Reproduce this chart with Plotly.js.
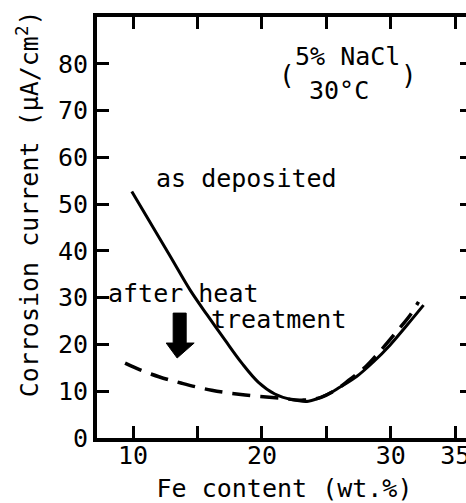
<!DOCTYPE html>
<html>
<head>
<meta charset="utf-8">
<script src="https://cdn.plot.ly/plotly-3.0.1.min.js"></script>
<style>
html, body { margin: 0; padding: 0; overflow: hidden; background: #fff; }
#chart { width: 480px; height: 503px; }
</style>
</head>
<body>
<div id="chart"></div>
<script>
// Fe content (wt.%) and corrosion current (uA/cm2)
const asDepositedFe = [9.9, 12.87, 14.43, 15.75, 17.14, 18.44, 19.73, 21.0, 22.3, 23.6, 25.0, 26.07, 27.37, 28.66, 29.95, 31.25, 32.54];
const asDepositedI  = [52.7, 38.9, 31.6, 26.3, 20.9, 16.0, 11.9, 9.4, 8.2, 7.85, 9.2, 10.9, 13.2, 16.3, 19.9, 24.1, 28.4];

const heatTreatedFe = [9.38, 10.5, 12.0, 13.78, 16.1, 18.7, 21.5, 23.2, 24.6, 25.8, 26.85, 28.0, 29.18, 30.47, 31.51, 32.15];
const heatTreatedI  = [16.0, 14.6, 13.1, 11.7, 10.2, 9.2, 8.5, 8.1, 8.7, 10.4, 12.6, 15.1, 18.6, 22.8, 26.3, 29.1];

const xTickVals = [10, 15, 20, 25, 30, 35];
const xTickText = ['10', ' ', '20', ' ', '30', '35'];
const yTickVals = [0, 10, 20, 30, 40, 50, 60, 70, 80];

const FONT = 'DejaVu Sans Mono, monospace';

const traces = [
  {
    x: asDepositedFe, y: asDepositedI, type: 'scatter', mode: 'lines',
    line: { color: '#000', width: 3, shape: 'spline', smoothing: 1 },
    name: 'as deposited', hoverinfo: 'skip'
  },
  {
    x: heatTreatedFe, y: heatTreatedI, type: 'scatter', mode: 'lines',
    line: { color: '#000', width: 3.5, shape: 'spline', smoothing: 1, dash: '18px,10px' },
    name: 'after heat treatment', hoverinfo: 'skip'
  }
];

const axisCommon = {
  showline: true, linewidth: 4, linecolor: '#000', mirror: 'ticks',
  ticks: 'inside', ticklen: 12, tickwidth: 3, tickcolor: '#000',
  showgrid: false, zeroline: false,
  tickfont: { family: FONT, size: 25, color: '#000' }
};

const txt = (text, x, y, xanchor, size) => ({
  text: text, x: x, y: y, xref: 'x', yref: 'y', showarrow: false,
  xanchor: xanchor || 'center', yanchor: 'middle',
  font: { family: FONT, size: size || 25, color: '#000' }
});

const layout = {
  width: 480, height: 503, autosize: false,
  margin: { l: 97, r: 8, t: 17, b: 65 },
  paper_bgcolor: '#fff', plot_bgcolor: '#fff',
  showlegend: false,
  xaxis: Object.assign({}, axisCommon, {
    range: [7.2, 36.3], tickmode: 'array', tickvals: xTickVals, ticktext: xTickText,
    ticklabelstandoff: -8,
    title: { text: 'Fe content (wt.%)', font: { family: FONT, size: 25, color: '#000' }, standoff: 14 }
  }),
  yaxis: Object.assign({}, axisCommon, {
    range: [0, 90], tickmode: 'array', tickvals: yTickVals
  }),
  annotations: [
    {
      text: 'Corrosion current (μA/cm<sup>2</sup>)', textangle: -90,
      xref: 'paper', yref: 'paper', x: -0.184, y: 0.555,
      xanchor: 'center', yanchor: 'middle', showarrow: false,
      font: { family: FONT, size: 25, color: '#000' }
    },
    txt('as deposited', 11.6, 55.4, 'left'),
    txt('after heat', 7.9, 30.8, 'left'),
    txt('treatment', 15.9, 25.4, 'left'),
    txt('5% NaCl', 26.6, 81.6),
    txt('30°C', 25.95, 74.2),
    txt('(', 21.92, 77.6, 'center', 26),
    txt(')', 31.43, 77.6, 'center', 26)
  ],
  shapes: [
    {
      type: 'path', xref: 'x', yref: 'y',
      path: 'M 13.11,26.7 L 14.12,26.7 L 14.12,20.3 L 14.74,20.3 L 13.42,17.1 L 12.57,20.3 L 13.11,20.3 Z',
      fillcolor: '#000', line: { color: '#000', width: 1 }
    }
  ]
};

Plotly.newPlot('chart', traces, layout, { staticPlot: true, displayModeBar: false });
</script>
</body>
</html>
